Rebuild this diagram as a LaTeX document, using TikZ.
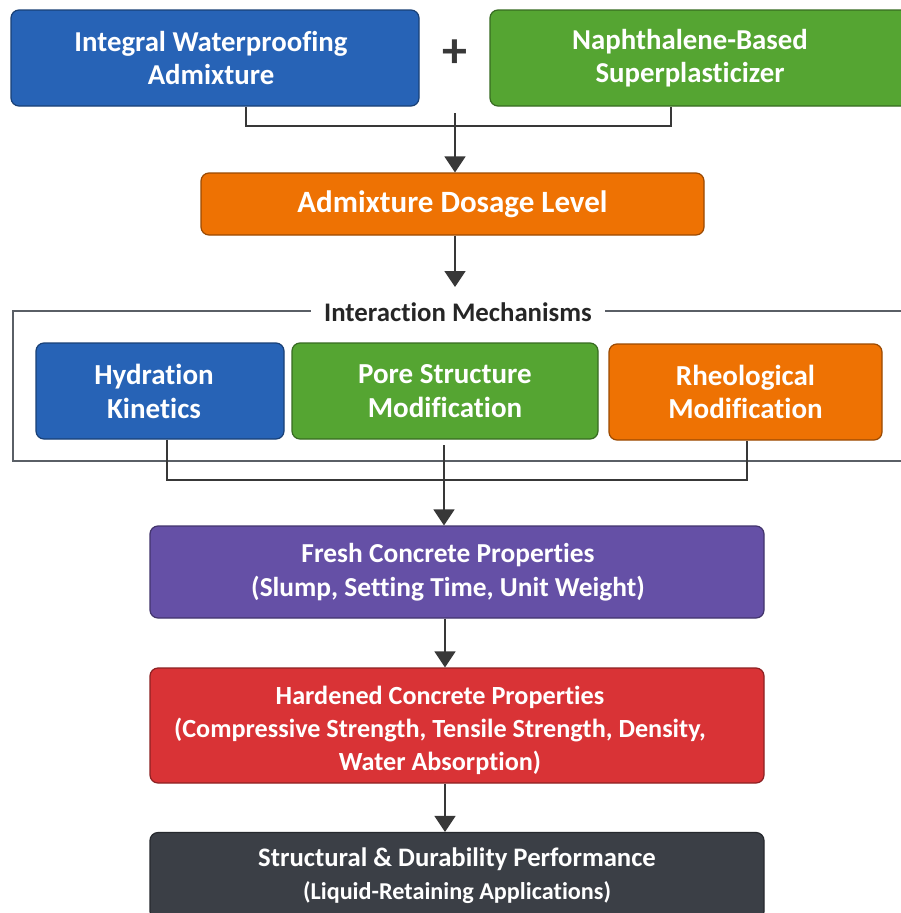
\documentclass[tikz,border=0pt]{standalone}
\usepackage{fontspec}
\setmainfont{Carlito}[Ligatures={NoCommon}]
\usetikzlibrary{arrows.meta}
\definecolor{wpblue}{HTML}{2763B6}
\definecolor{wpgreen}{HTML}{55A532}
\definecolor{wporange}{HTML}{EE7203}
\definecolor{wppurple}{HTML}{6550A6}
\definecolor{wpred}{HTML}{D93336}
\definecolor{wpdark}{HTML}{3B3F46}
\definecolor{wpline}{HTML}{383838}
\definecolor{wpframe}{HTML}{5A5F66}
\begin{document}
\begin{tikzpicture}[x=1pt, y=-1pt,
  box/.style={draw=#1!65!black, fill=#1, rounded corners=8pt, line width=1.2pt,
    text=white, align=center, inner sep=0pt, font=\bfseries\fontsize{28.8}{33}\selectfont},
  link/.style={draw=wpline, line width=1.6pt},
  arr/.style={link, -{Triangle[length=16pt, width=21pt]}}]
\useasboundingbox (0,0) rectangle (901,913);
\clip (0,0) rectangle (901,913);
\fill[white] (0,0) rectangle (901,913);
\node[box=wpblue, minimum width=408, minimum height=96] (integral) at (215,58) {\hspace*{-8pt}Integral Waterproofing\\\hspace*{-8pt}Admixture};
\node[box=wpgreen, minimum width=420, minimum height=96] (naph) at (700,58) {\hspace*{-20pt}Naphthalene-Based\\\hspace*{-20pt}Superplasticizer};
\node[font=\bfseries\fontsize{50}{50}\selectfont, text=wpline] (plus) at (455,54) {+};
\node[box=wporange, minimum width=503, minimum height=62, font=\bfseries\fontsize{31}{33}\selectfont] (dosage) at (452.5,204) {Admixture Dosage Level};
\draw[wpframe, line width=2pt] (13,311) rectangle (915,461);
\node[fill=white, inner xsep=13pt, inner ysep=2pt, text=black!85, font=\bfseries\fontsize{26.8}{27}\selectfont] (mech) at (458,312) {Interaction Mechanisms};
\node[box=wpblue, minimum width=248, minimum height=96, font=\bfseries\fontsize{29}{34}\selectfont] (hydra) at (160,391) {\hspace*{-12pt}Hydration\\\hspace*{-12pt}Kinetics};
\node[box=wpgreen, minimum width=306, minimum height=96, font=\bfseries\fontsize{29}{34}\selectfont] (pore) at (445,391) {Pore Structure\\Modification};
\node[box=wporange, minimum width=273, minimum height=96, font=\bfseries\fontsize{29}{33}\selectfont] (rheo) at (745.5,392) {Rheological\\Modification};
\node[box=wppurple, minimum width=614, minimum height=92, font=\bfseries\fontsize{27.4}{34}\selectfont] (fresh) at (457,572) {\hspace*{-18pt}Fresh Concrete Properties\\\hspace*{-18pt}(Slump, Setting Time, Unit Weight)};
\node[box=wpred, minimum width=614, minimum height=115, font=\bfseries\fontsize{26.2}{33}\selectfont] (hard) at (457,725.5) {\hspace*{-34pt}\rule{0pt}{29pt}Hardened Concrete Properties\\\hspace*{-34pt}(Compressive Strength, Tensile Strength, Density,\\\hspace*{-34pt}Water Absorption)};
\node[box=wpdark, minimum width=614, minimum height=87, font=\bfseries\fontsize{26.7}{33}\selectfont] (perf) at (457,876) {Structural \& Durability Performance\\{\fontsize{24.2}{24}\selectfont(Liquid-Retaining Applications)}};
\coordinate (topstart) at (455,113);
\coordinate (topjoin) at (455,126);
\coordinate (mechtop) at (455,287);
\coordinate (midstart) at (444,445);
\coordinate (midjoin) at (444,480);
\coordinate (spine) at (445,0);
\draw[link] ([xshift=31pt]integral.south) |- (topjoin) -| ([xshift=-29pt]naph.south);
\draw[arr] (topstart) -- (dosage.north -| topstart);
\draw[arr] (dosage.south -| topstart) -- (mechtop);
\draw[link] ([xshift=7pt]hydra.south) |- (midjoin) -| ([xshift=1.5pt]rheo.south);
\draw[arr] (midstart) -- (fresh.north -| midstart);
\draw[arr] (fresh.south -| spine) -- (hard.north -| spine);
\draw[arr] (hard.south -| spine) -- (perf.north -| spine);
\end{tikzpicture}
\end{document}
